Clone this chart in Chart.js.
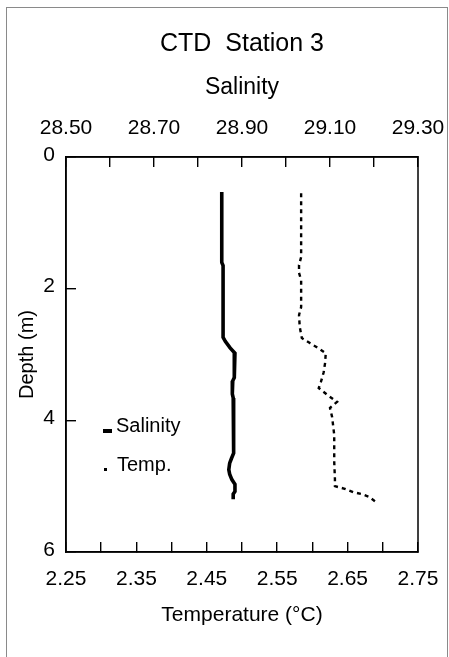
<!DOCTYPE html>
<html>
<head>
<meta charset="utf-8">
<title>CTD Station 3</title>
<script src="https://cdn.jsdelivr.net/npm/chart.js@4.4.1/dist/chart.umd.min.js"></script>
<style>
  html, body { margin: 0; padding: 0; background: #fff; }
  #wrap { width: 449px; height: 657px; }
</style>
</head>
<body>
<div id="wrap"><canvas id="ctdChart" width="449" height="657"></canvas></div>
<script>
// salinity profile (depth in m)
const salDepth = [0.53, 1.0, 1.60, 1.65, 2.20, 2.74, 2.80, 2.90, 2.98, 3.05, 3.35, 3.40, 3.60, 3.66, 4.00, 4.50, 4.58, 4.65, 4.75, 4.82, 4.90, 4.97, 5.08, 5.12, 5.20];
const salinity = [28.854, 28.854, 28.854, 28.857, 28.857, 28.857, 28.862, 28.873, 28.884, 28.883, 28.882, 28.879, 28.878, 28.880, 28.881, 28.881, 28.876, 28.872, 28.870, 28.872, 28.877, 28.884, 28.884, 28.880, 28.880];

// temperature profile
const tempDepth = [0.55, 1.52, 1.64, 1.76, 1.87, 2.28, 2.40, 2.58, 2.75, 2.83, 2.90, 2.98, 3.13, 3.27, 3.42, 3.51, 3.62, 3.72, 3.81, 3.95, 4.22, 4.63, 4.89, 5.00, 5.04, 5.09, 5.12, 5.16, 5.26];
const temperature = [2.584, 2.584, 2.581, 2.581, 2.584, 2.584, 2.581, 2.582, 2.585, 2.597, 2.608, 2.619, 2.618, 2.616, 2.612, 2.609, 2.622, 2.635, 2.625, 2.628, 2.631, 2.631, 2.632, 2.632, 2.646, 2.658, 2.670, 2.680, 2.693];

// axis ticks
const salTicks = [28.5, 28.6, 28.7, 28.8, 28.9, 29.0, 29.1, 29.2, 29.3];
const tempTicks = [2.25, 2.30, 2.35, 2.40, 2.45, 2.50, 2.55, 2.60, 2.65, 2.70, 2.75];
const depthTicks = [0, 2, 4, 6];

const FONT = "'Liberation Sans', Arial, sans-serif";

function toPoints(xs, ys) {
    return xs.map((x, i) => ({x: x, y: ys[i]}));
}

// ticks pointing into the plot
const inTicks = {display: true, drawOnChartArea: false, drawTicks: true, tickLength: -10, color: '#000', lineWidth: 1.4};
const axisLine = {display: true, color: '#000', width: 1.5};

// keep the edge labels from pushing the plot box around
function noEdgePad(s) {
    s.paddingLeft = 0;
    s.paddingRight = 0;
    s.paddingTop = 0;
    s.paddingBottom = 0;
}

// frame, title, right edge of the box and the small legend inside the plot
const decor = {
    id: 'decor',
    beforeDraw(chart) {
        const ctx = chart.ctx;
        ctx.save();
        ctx.fillStyle = '#fff';
        ctx.fillRect(0, 0, chart.width, chart.height);
        ctx.strokeStyle = '#8a8a8a';
        ctx.lineWidth = 1;
        ctx.strokeRect(6.5, 7.5, 441, 700);
        ctx.restore();
    },
    afterDraw(chart) {
        const ctx = chart.ctx;
        const a = chart.chartArea;
        ctx.save();
        ctx.strokeStyle = '#000';
        ctx.lineWidth = 1.5;
        ctx.strokeRect(a.left, a.top, a.right - a.left, a.bottom - a.top);

        ctx.fillStyle = '#000';
        ctx.textAlign = 'center';
        ctx.textBaseline = 'middle';
        ctx.font = '25px ' + FONT;
        ctx.fillText('CTD  Station 3', (a.left + a.right) / 2, 44);

        ctx.textAlign = 'left';
        ctx.textBaseline = 'alphabetic';
        ctx.font = '20px ' + FONT;
        ctx.fillRect(a.left + 37, a.top + 272, 9, 4);
        ctx.fillText('Salinity', a.left + 50, a.top + 275);
        ctx.fillRect(a.left + 38, a.top + 311, 3, 3);
        ctx.fillText('Temp.', a.left + 51, a.top + 314);
        ctx.restore();
    }
};

const ctx = document.getElementById('ctdChart');
const myChart = new Chart(ctx, {
    type: 'scatter',
    data: {
        datasets: [{
            label: 'Salinity',
            data: toPoints(salinity, salDepth),
            xAxisID: 'xSal',
            showLine: true,
            borderColor: '#000',
            borderWidth: 3.6,
            pointRadius: 0,
            tension: 0
        }, {
            label: 'Temp.',
            data: toPoints(temperature, tempDepth),
            xAxisID: 'xTemp',
            showLine: true,
            borderColor: '#000',
            borderWidth: 2.4,
            borderDash: [4, 4],
            pointRadius: 0,
            tension: 0
        }]
    },
    options: {
        responsive: false,
        animation: false,
        layout: {padding: {top: 59, left: 0, right: 31, bottom: 0}},
        plugins: {
            legend: {display: false},
            tooltip: {enabled: false},
            title: {display: false}
        },
        scales: {
            xSal: {
                type: 'linear',
                position: 'top',
                min: 28.5,
                max: 29.3,
                afterBuildTicks: s => { s.ticks = salTicks.map(v => ({value: v})); },
                afterFit: s => { s.height = 98; noEdgePad(s); },
                ticks: {
                    autoSkip: false, maxRotation: 0, padding: 26, color: '#000',
                    font: {family: FONT, size: 21},
                    callback: (v, i) => i % 2 === 0 ? Number(v).toFixed(2) : ''
                },
                grid: inTicks,
                border: axisLine,
                title: {display: true, text: 'Salinity', color: '#000', font: {family: FONT, size: 23}, padding: {top: 15, bottom: 0}}
            },
            xTemp: {
                type: 'linear',
                position: 'bottom',
                min: 2.25,
                max: 2.75,
                afterBuildTicks: s => { s.ticks = tempTicks.map(v => ({value: v})); },
                afterFit: s => { s.height = 105; noEdgePad(s); },
                ticks: {
                    autoSkip: false, maxRotation: 0, padding: 25, color: '#000',
                    font: {family: FONT, size: 21},
                    callback: (v, i) => i % 2 === 0 ? Number(v).toFixed(2) : ''
                },
                grid: inTicks,
                border: axisLine,
                title: {display: true, text: 'Temperature (°C)', color: '#000', font: {family: FONT, size: 21}, padding: {top: 0, bottom: 29}}
            },
            y: {
                type: 'linear',
                position: 'left',
                reverse: true,
                min: 0,
                max: 6,
                afterBuildTicks: s => { s.ticks = depthTicks.map(v => ({value: v})); },
                afterFit: s => { s.width = 66; noEdgePad(s); },
                ticks: {padding: 21, labelOffset: -2, color: '#000', font: {family: FONT, size: 21}},
                grid: inTicks,
                border: axisLine,
                title: {display: true, text: 'Depth (m)', color: '#000', font: {family: FONT, size: 20}, padding: {top: 15, bottom: 0}}
            }
        }
    },
    plugins: [decor]
});
</script>
</body>
</html>
